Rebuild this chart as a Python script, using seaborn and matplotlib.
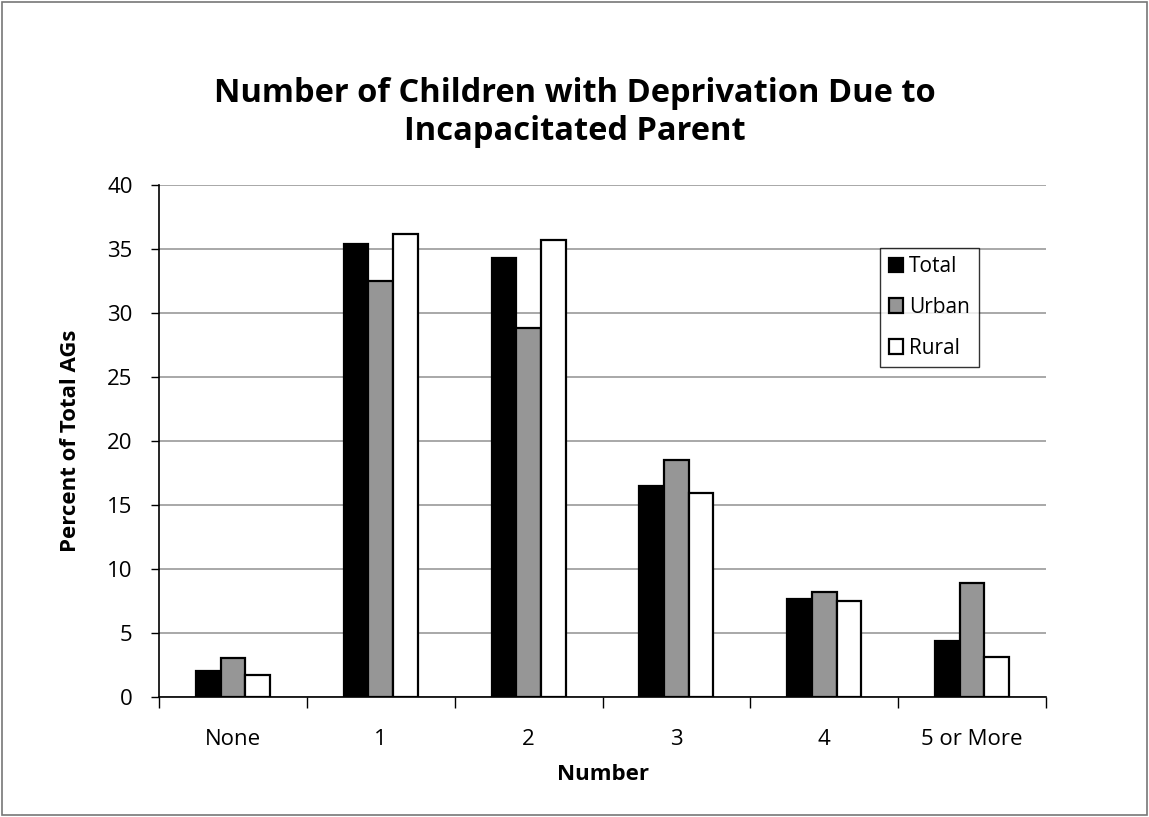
import pandas as pd
import seaborn as sns
import matplotlib.pyplot as plt
from matplotlib.patches import Rectangle

# Data
categories = ["None", "1", "2", "3", "4", "5 or More"]
total = [2.05, 35.4, 34.27, 16.46, 7.66, 4.38]
urban = [3.07, 32.5, 28.8, 18.5, 8.23, 8.9]
rural = [1.72, 36.15, 35.7, 15.9, 7.47, 3.1]

df = pd.DataFrame({"Number": categories * 3,
                   "Percent": total + urban + rural,
                   "Group": ["Total"] * 6 + ["Urban"] * 6 + ["Rural"] * 6})

sns.set_style("white")
plt.rcParams['font.family'] = ['Open Sans', 'DejaVu Sans']
plt.rcParams['text.color'] = 'black'
plt.rcParams['axes.labelcolor'] = 'black'
plt.rcParams['xtick.color'] = 'black'
plt.rcParams['ytick.color'] = 'black'

fig = plt.figure(figsize=(11.49, 8.17), dpi=100)
ax = fig.add_axes([0.1384, 0.1469, 0.772, 0.6267])

sns.barplot(data=df, x="Number", y="Percent", hue="Group",
            palette={"Total": "black", "Urban": "#969696", "Rural": "white"},
            edgecolor="black", linewidth=1.6, width=0.5, gap=0, ax=ax, zorder=3)

ax.set_ylim(0, 40)
ax.set_xlim(-0.5, 5.5)
ax.set_yticks(range(0, 41, 5))
ax.yaxis.grid(True, color="#999999", linewidth=1.2, zorder=0)
ax.set_axisbelow(True)
ax.tick_params(axis="y", length=6, width=1, direction="out", left=True, labelsize=16, pad=13)
ax.tick_params(axis="x", length=0, labelsize=16, pad=23)
ax.set_xticks([i - 0.5 for i in range(7)], minor=True)
ax.tick_params(axis="x", which="minor", length=8, width=1, direction="out", bottom=True)

for s in ["top", "right"]:
    ax.spines[s].set_visible(False)
for s in ["left", "bottom"]:
    ax.spines[s].set_color("black")
    ax.spines[s].set_linewidth(1.2)

ax.set_xlabel("Number", fontsize=16, fontweight="bold", labelpad=10)
ax.set_ylabel("Percent of Total AGs", fontsize=16, fontweight="bold", labelpad=19)

fig.suptitle("Number of Children with Deprivation Due to\nIncapacitated Parent",
             fontsize=23.5, fontweight="bold", y=0.906, linespacing=1.22)

leg = ax.legend(loc="upper left", bbox_to_anchor=(0.813, 0.877), frameon=True,
                fancybox=False, fontsize=15, handlelength=0.7, handleheight=0.7,
                handletextpad=0.3, borderpad=0.4, labelspacing=0.95, borderaxespad=0)
leg.get_frame().set_edgecolor("black")
leg.get_frame().set_linewidth(1.0)

fig.patches.append(Rectangle((0.002, 0.002), 0.996, 0.996, transform=fig.transFigure,
                             fill=False, edgecolor="#777777", linewidth=1.2))

plt.savefig("out.png", dpi=100)
